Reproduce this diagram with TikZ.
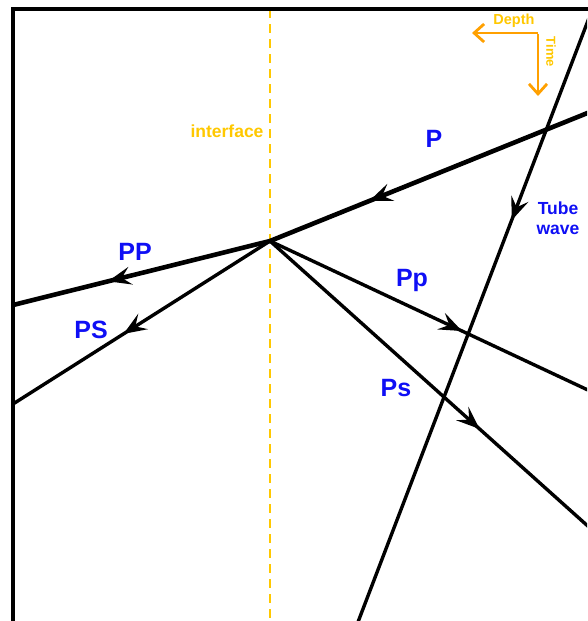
\documentclass[tikz,border=0pt]{standalone}
\usepackage{fontspec}
\setmainfont{Liberation Sans}
\usetikzlibrary{arrows.meta,decorations.markings}
\definecolor{waveblue}{RGB}{15,15,245}
\definecolor{ifgold}{RGB}{255,200,0}
\definecolor{axorange}{RGB}{255,160,0}
\tikzset{
  ray/.style={line width=3.4pt, black},
  strongray/.style={line width=4.6pt, black},
  midarrow/.style={postaction={decorate},
    decoration={markings, mark=at position #1 with {\arrow{Stealth[length=23pt,width=18pt,inset=9pt]}}}},
  wavelabel/.style={text=waveblue, font=\bfseries\fontsize{25}{27}\selectfont, inner sep=0pt},
  axlabel/.style={text=ifgold, font=\bfseries\fontsize{14.5}{16}\selectfont, inner sep=0pt},
  axarrow/.style={draw=axorange, line width=2.8pt, -{Straight Barb[length=10pt,width=18pt]}}
}
\begin{document}
\begin{tikzpicture}[x=1pt,y=-1pt]
\useasboundingbox (0,0) rectangle (587,621);
\fill[white] (0,0) rectangle (587,621);

% points on the frame and the reflection point on the interface
\coordinate (R) at (270,241);
\coordinate (Pin) at (590,112);
\coordinate (PPend) at (13,305);
\coordinate (PSend) at (13,404);
\coordinate (Ppend) at (590,391);
\coordinate (Psend) at (590,528);
\coordinate (TWtop) at (589,18);
\coordinate (TWbot) at (358,622);
\coordinate (IFtop) at (270,9);
\coordinate (IFbot) at (270,621);

\begin{scope}
\clip (13,9) rectangle (587,621);
% interface
\draw[ifgold, line width=2.8pt, dash pattern=on 9pt off 6pt] (IFtop) -- (IFbot);
% incident wave and reflections
\draw[strongray, midarrow=0.69] (Pin) -- (R);
\draw[strongray, midarrow=0.63] (R) -- (PPend);
\draw[ray, midarrow=0.57] (R) -- (PSend);
% transmitted waves
\draw[ray, midarrow=0.60] (R) -- (Ppend);
\draw[ray, midarrow=0.655] (R) -- (Psend);
% tube wave along the borehole
\draw[ray, midarrow=0.335] (TWtop) -- (TWbot);
\end{scope}

% frame
\draw[line width=3.4pt] (13,622) -- (13,9) -- (588,9);

% depth / time axes
\coordinate (AX) at (538,33);
\coordinate (AXleft) at (472,33);
\coordinate (AXdown) at (538,96);
\draw[axarrow] (AX) -- (AXleft);
\draw[axarrow] ([yshift=-1.4pt]AX) -- (AXdown);
\node[axlabel] (depth) at (514,21) {Depth};
\node[axlabel, font=\bfseries\fontsize{13}{14}\selectfont, rotate=-90] (time) at (551,52) {Time};

% labels
\node[text=ifgold, font=\bfseries\fontsize{17.5}{19}\selectfont, inner sep=0pt] (iflabel) at (227,131) {interface};
\node[wavelabel] (lP) at (434,139) {P};
\node[wavelabel] (lPP) at (135,252) {PP};
\node[wavelabel] (lPS) at (91,330) {PS};
\node[wavelabel] (lPp) at (412,280) {Pp};
\node[wavelabel] (lPs) at (396,388) {Ps};
\node[text=waveblue, font=\bfseries\fontsize{17.5}{20.5}\selectfont, align=center, inner sep=0pt] (ltube) at (558,218) {Tube\\wave};
\end{tikzpicture}
\end{document}
